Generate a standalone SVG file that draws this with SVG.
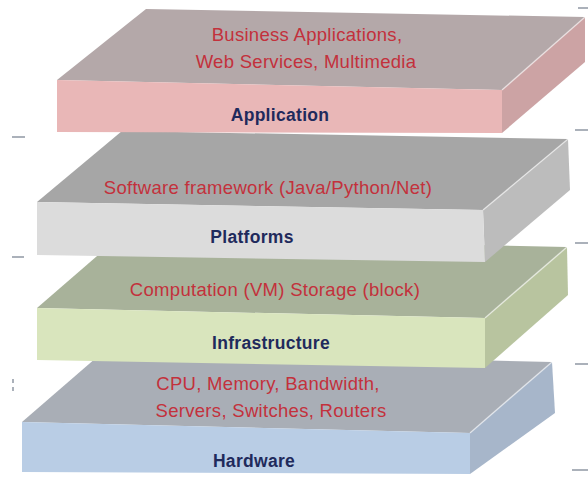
<svg xmlns="http://www.w3.org/2000/svg" width="588" height="477" viewBox="0 0 588 477">
<style>
.red{font-family:"Liberation Sans",Arial,sans-serif;font-size:18.5px;letter-spacing:0.3px;fill:#c3313c;text-anchor:middle}
.lbl{font-family:"Liberation Sans",Arial,sans-serif;font-size:17.5px;letter-spacing:0.3px;font-weight:bold;fill:#1f2a5c;text-anchor:middle}
.hl{fill:none;stroke:#ffffff;stroke-opacity:0.55;stroke-width:1.5}
.tick{stroke:#8f97a3;stroke-width:1.5}
</style>
<rect width="588" height="477" fill="#ffffff"/>
<g id="decor">
<line class="tick" x1="578" y1="8" x2="588" y2="8"/>
<line class="tick" x1="575" y1="130" x2="588" y2="130"/>
<line class="tick" x1="575" y1="243" x2="588" y2="243"/>
<line class="tick" x1="575" y1="364" x2="588" y2="364"/>
<line class="tick" x1="572" y1="470" x2="588" y2="470"/>
<line class="tick" x1="12" y1="137" x2="25" y2="137"/>
<line class="tick" x1="12" y1="257" x2="24" y2="257"/>
<line class="tick" x1="13" y1="379" x2="13" y2="383" stroke-width="1"/>
<line class="tick" x1="13" y1="387" x2="13" y2="391" stroke-width="1"/>
</g>
<g id="hardware">
<polygon points="22,422 104,351 552,362 470,433" fill="#a9aeb6"/>
<polygon points="470,433 552,362 555,413 470,474" fill="#a7b6ca"/>
<polygon points="22,422 470,433 470,474 22,472" fill="#b9cde5"/>
<line class="hl" x1="470" y1="433" x2="552" y2="362"/>
<text class="red" x="268" y="390">CPU, Memory, Bandwidth,</text>
<text class="red" x="271" y="417">Servers, Switches, Routers</text>
<text class="lbl" x="254" y="467">Hardware</text>
</g>
<g id="infrastructure">
<polygon points="37,308 119,237 567,247 485,318" fill="#a8b29a"/>
<polygon points="485,318 567,247 568,295 485,368" fill="#b8c49f"/>
<polygon points="37,308 485,318 485,368 37,360" fill="#d9e5bd"/>
<line class="hl" x1="485" y1="318" x2="567" y2="247"/>
<text class="red" x="275" y="296">Computation (VM) Storage (block)</text>
<text class="lbl" x="271" y="349">Infrastructure</text>
</g>
<g id="platforms">
<polygon points="37,202 122,131 568,139 483,210" fill="#a6a6a6"/>
<polygon points="483,210 568,139 570,190 485,262" fill="#bcbcbc"/>
<polygon points="37,202 483,210 485,262 37,255" fill="#dcdcdc"/>
<line class="hl" x1="483" y1="210" x2="568" y2="139"/>
<text class="red" x="268" y="194">Software framework (Java/Python/Net)</text>
<text class="lbl" x="252" y="243">Platforms</text>
</g>
<g id="application">
<polygon points="57,80 146,9 585,17 502,90" fill="#b4a8a9"/>
<polygon points="502,90 585,17 585,62 502,133" fill="#cca3a4"/>
<polygon points="57,80 502,90 502,133 57,132" fill="#e9b7b7"/>
<line class="hl" x1="502" y1="90" x2="585" y2="17"/>
<text class="red" x="307" y="41">Business Applications,</text>
<text class="red" x="306" y="68">Web Services, Multimedia</text>
<text class="lbl" x="280" y="121">Application</text>
</g>
</svg>
